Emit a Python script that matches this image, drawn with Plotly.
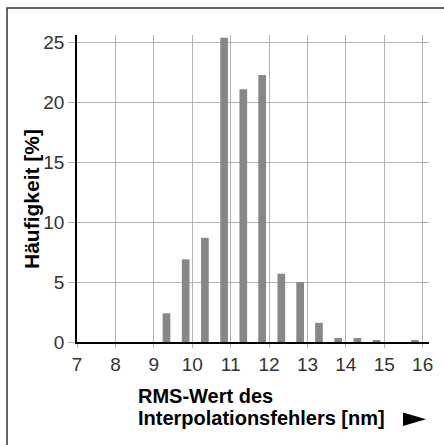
import plotly.graph_objects as go

# Data
rms_nm = [9.33, 9.83, 10.33, 10.83, 11.33, 11.82, 12.32, 12.81, 13.30, 13.80, 14.30, 14.80, 15.30, 15.80]
haeufigkeit_pct = [2.4, 6.9, 8.7, 25.4, 21.1, 22.3, 5.7, 5.0, 1.6, 0.33, 0.33, 0.12, 0.0, 0.12]
x_ticks = [7, 8, 9, 10, 11, 12, 13, 14, 15, 16]
y_ticks = [0, 5, 10, 15, 20, 25]

FONT = "Liberation Sans"

fig = go.Figure()
fig.add_trace(go.Bar(
    x=rms_nm, y=haeufigkeit_pct, width=0.2,
    marker=dict(color="#878787", line=dict(width=0)),
))

W, H = 444, 445
L, R, T, B = 77, 15, 35, 103

fig.update_layout(
    width=W, height=H,
    margin=dict(l=L, r=R, t=T, b=B, pad=0),
    paper_bgcolor="white", plot_bgcolor="white",
    showlegend=False,
    font=dict(family=FONT, size=19, color="#333"),
    xaxis=dict(
        range=[7, 16.165], tickvals=x_ticks, ticktext=[str(v) for v in x_ticks],
        showgrid=True, gridcolor="#b4b4b4", gridwidth=1,
        showline=True, linecolor="black", linewidth=1.5,
        ticks="outside", ticklen=4, tickcolor="#b4b4b4", tickwidth=1,
        zeroline=False, tickfont=dict(family=FONT, size=19, color="#333"),
    ),
    yaxis=dict(
        range=[0, 25.64], tickvals=y_ticks, ticktext=[str(v) for v in y_ticks],
        showgrid=True, gridcolor="#b4b4b4", gridwidth=1,
        showline=True, linecolor="black", linewidth=1.5,
        ticks="outside", ticklen=7, tickcolor="#b4b4b4", tickwidth=1,
        zeroline=False, tickfont=dict(family=FONT, size=19, color="#333"),
    ),
)

pw = W - L - R
ph = H - T - B

def px(xp):
    return (xp - L) / pw

def py(yp):
    return (H - B - yp) / ph

# Frame lines (top and left)
fig.add_shape(type="path", xref="paper", yref="paper",
              path=f"M {px(7)},{py(446)} L {px(7)},{py(8)} L {px(445)},{py(8)}",
              line=dict(color="#333", width=1.5))

# Y-axis title
fig.add_annotation(xref="paper", yref="paper", x=px(31), y=py(199),
                   text="<b>Häufigkeit [%]</b>", textangle=-90, showarrow=False,
                   xanchor="center", yanchor="middle",
                   font=dict(family=FONT, size=21, color="black"))

# X-axis title (two lines)
fig.add_annotation(xref="paper", yref="paper", x=px(136), y=py(396),
                   text="<b>RMS-Wert des</b>", showarrow=False,
                   xanchor="left", yanchor="middle",
                   font=dict(family=FONT, size=20, color="black"))
fig.add_annotation(xref="paper", yref="paper", x=px(136), y=py(418),
                   text="<b>Interpolationsfehlers [nm]</b>", showarrow=False,
                   xanchor="left", yanchor="middle",
                   font=dict(family=FONT, size=20, color="black"))

# Arrow triangle
fig.add_shape(type="path", xref="paper", yref="paper",
              path=f"M {px(403)},{py(412.5)} L {px(426)},{py(419.3)} L {px(403)},{py(426)} Z",
              fillcolor="black", line=dict(color="black", width=0))

fig.write_html("out.html",
               config={"displayModeBar": False},
               post_script="document.body.style.margin='0';document.body.style.overflow='hidden';")
